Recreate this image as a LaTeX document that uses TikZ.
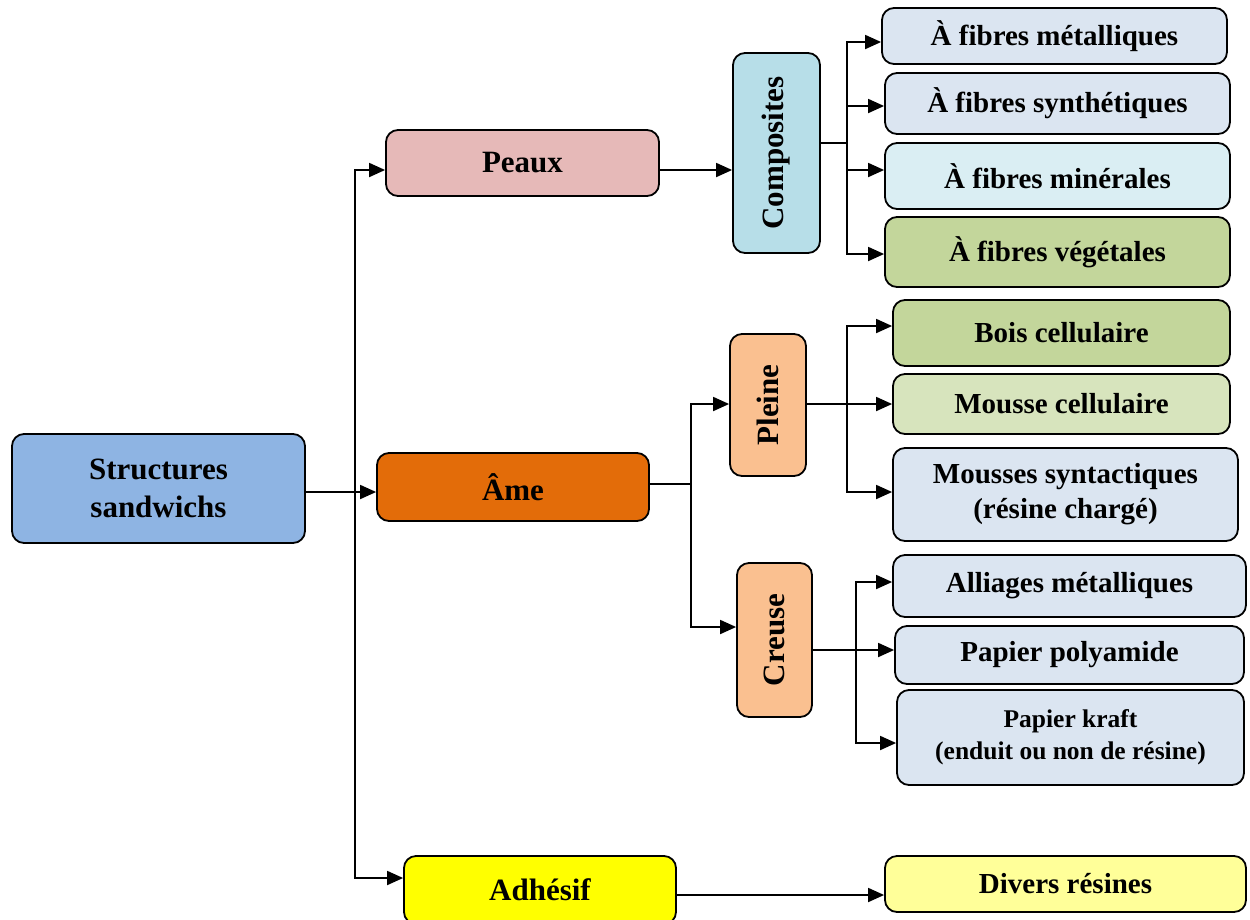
\documentclass[tikz,border=0pt]{standalone}
\usepackage{fontspec}
\setmainfont{Liberation Serif}
\usepackage{graphicx}
\usetikzlibrary{arrows.meta}
\definecolor{sblue}{HTML}{8EB4E3}
\definecolor{peaux}{HTML}{E6B9B8}
\definecolor{ame}{HTML}{E36C09}
\definecolor{adh}{HTML}{FFFF00}
\definecolor{comp}{HTML}{B7DEE8}
\definecolor{plein}{HTML}{FAC090}
\definecolor{lb}{HTML}{DBE5F1}
\definecolor{lc}{HTML}{DAEEF3}
\definecolor{gr}{HTML}{C3D69B}
\definecolor{lgr}{HTML}{D7E4BD}
\definecolor{yel}{HTML}{FFFF99}
\begin{document}
\begin{tikzpicture}[x=1pt,y=-1pt,
  bx/.style={draw=black,line width=1.8pt,rounded corners=12pt,
    font=\bfseries\fontsize{29}{35}\selectfont,align=center,inner sep=0pt},
  mbx/.style={bx,font=\bfseries\fontsize{31}{36}\selectfont},
  vbx/.style={bx,font=\bfseries\fontsize{31}{36}\selectfont},
  arr/.style={line width=1.8pt,-{Triangle[length=16pt,width=14pt]}},
  ln/.style={line width=1.8pt}]
\useasboundingbox (0,0) rectangle (1250,919);
\clip (0,0) rectangle (1250,919);

% main nodes
\node[bx,fill=sblue,minimum width=293pt,minimum height=109pt,
  font=\bfseries\fontsize{31}{38}\selectfont] (S) at (158.5,488.5) {Structures\\sandwichs};
\node[mbx,fill=peaux,minimum width=273pt,minimum height=66pt] (P) at (522.5,163) {Peaux};
\node[mbx,fill=ame,minimum width=272pt,minimum height=68pt] (A) at (513,487) {Âme};
\node[mbx,fill=adh,minimum width=272pt,minimum height=68pt] (D) at (540,890) {Adhésif};

% middle nodes
\node[vbx,fill=comp,minimum width=87pt,minimum height=200pt] (C) at (776.5,153) {\rotatebox{90}{Composites}};
\node[vbx,fill=plein,minimum width=76pt,minimum height=142pt] (Pl) at (768,405) {\rotatebox{90}{Pleine}};
\node[vbx,fill=plein,minimum width=75pt,minimum height=154pt] (Cr) at (774.5,640) {\rotatebox{90}{Creuse}};

% right nodes
\node[bx,fill=lb,minimum width=345pt,minimum height=56pt] (R1) at (1054.5,36) {À fibres métalliques};
\node[bx,fill=lb,minimum width=345pt,minimum height=61pt] (R2) at (1057.5,103.5) {À fibres synthétiques};
\node[bx,fill=lc,minimum width=345pt,minimum height=66pt] (R3) at (1057.5,176) {À fibres minérales};
\node[bx,fill=gr,minimum width=345pt,minimum height=70pt] (R4) at (1057.5,252) {À fibres végétales};
\node[bx,fill=gr,minimum width=337pt,minimum height=66pt] (R5) at (1061.5,333) {Bois cellulaire};
\node[bx,fill=lgr,minimum width=337pt,minimum height=60pt] (R6) at (1061.5,404) {Mousse cellulaire};
\node[bx,fill=lb,minimum width=345pt,minimum height=93pt] (R7) at (1065.5,494.5) {Mousses syntactiques\\(résine chargé)};
\node[bx,fill=lb,minimum width=353pt,minimum height=62pt] (R8) at (1069.5,586) {Alliages métalliques};
\node[bx,fill=lb,minimum width=349pt,minimum height=58pt] (R9) at (1069.5,655) {Papier polyamide};
\node[bx,fill=lb,minimum width=347pt,minimum height=95pt,
  font=\bfseries\fontsize{25.5}{32}\selectfont] (R10) at (1070.5,737.5) {Papier kraft\\(enduit ou non de résine)};
\node[bx,fill=yel,minimum width=361pt,minimum height=56pt] (R11) at (1065.5,884) {Divers résines};

% junctions
\coordinate (t) at (355,492);
\coordinate (cj) at (847,143);
\coordinate (aj) at (691,484);
\coordinate (pj) at (847,404);
\coordinate (crj) at (856,650);

% main connectors
\draw[arr] ([yshift=-3.5pt]S.east) -- ([yshift=-5pt]A.west);
\draw[arr] (t) |- ([yshift=-7pt]P.west);
\draw[arr] (t) |- ([yshift=12pt]D.west);
\draw[arr] ([yshift=-7pt]P.east) -- ([yshift=-17pt]C.west);
\draw[arr] ([yshift=-5pt]D.east) -- ([yshift=-11pt]R11.west);

% composites branches
\draw[ln] ([yshift=10pt]C.east) -- (cj);
\draw[arr] (cj) |- ([yshift=-6pt]R1.west);
\draw[arr] (cj) |- ([yshift=-2.5pt]R2.west);
\draw[arr] (cj) |- ([yshift=6pt]R3.west);
\draw[arr] (cj) |- ([yshift=-2pt]R4.west);

% ame branches
\draw[ln] ([yshift=3pt]A.east) -- (aj);
\draw[arr] (aj) |- ([yshift=1pt]Pl.west);
\draw[arr] (aj) |- ([yshift=13pt]Cr.west);

% pleine branches
\draw[ln] ([yshift=1pt]Pl.east) -- (pj);
\draw[arr] (pj) |- ([yshift=7pt]R5.west);
\draw[arr] (pj) |- (R6.west);
\draw[arr] (pj) |- ([yshift=2.5pt]R7.west);

% creuse branches
\draw[ln] ([yshift=-10pt]Cr.east) -- (crj);
\draw[arr] (crj) |- ([yshift=4pt]R8.west);
\draw[arr] (crj) |- ([yshift=5pt]R9.west);
\draw[arr] (crj) |- ([yshift=-5.5pt]R10.west);
\end{tikzpicture}
\end{document}
